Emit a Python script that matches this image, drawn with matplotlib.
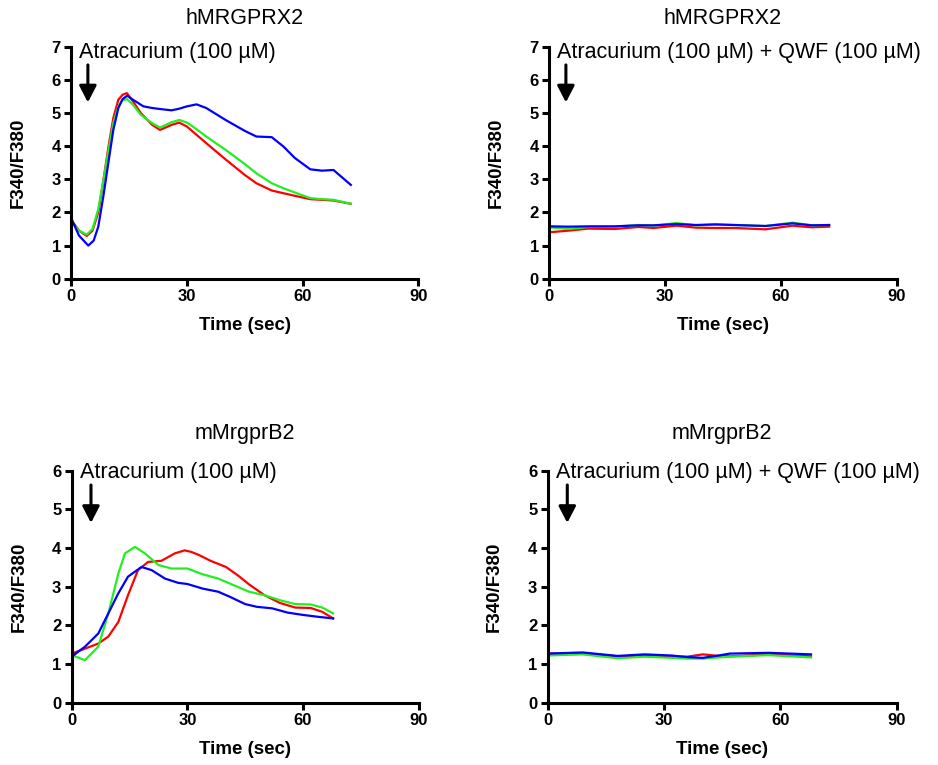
import matplotlib
matplotlib.use("Agg")
import matplotlib.pyplot as plt

plt.rcParams['font.family'] = ['Liberation Sans', 'DejaVu Sans']

# --- data (time in sec, F340/F380 ratio) ---
# hMRGPRX2, atracurium alone
hx_t_red = [0, 2, 4, 5.5, 7, 8.3, 9.6, 10.9, 12.2, 13.3, 14.4, 16, 18, 21, 23, 26, 28, 30, 32.5, 35, 40, 45, 48, 52, 55, 58, 62, 65, 68, 72.5]
hx_red = [1.77, 1.45, 1.29, 1.45, 2.0, 2.95, 3.95, 4.85, 5.4, 5.55, 5.6, 5.35, 5.0, 4.64, 4.49, 4.64, 4.71, 4.59, 4.34, 4.09, 3.6, 3.13, 2.88, 2.66, 2.58, 2.5, 2.4, 2.38, 2.36, 2.26]
hx_green = [1.7, 1.45, 1.33, 1.5, 2.1, 2.95, 3.85, 4.7, 5.2, 5.38, 5.42, 5.25, 4.95, 4.69, 4.56, 4.72, 4.79, 4.71, 4.51, 4.29, 3.89, 3.46, 3.18, 2.88, 2.73, 2.6, 2.43, 2.4, 2.38, 2.26]
hx_t_blue = [0, 2, 4.4, 5.8, 7, 8.3, 9.6, 10.9, 12.2, 13.3, 14.5, 16, 18.7, 21, 23, 26, 28, 30, 32.5, 35, 40, 45, 48, 52, 55, 58, 62, 65, 68, 72.5]
hx_blue = [1.82, 1.3, 1.0, 1.15, 1.57, 2.48, 3.49, 4.49, 5.15, 5.42, 5.52, 5.4, 5.2, 5.15, 5.12, 5.08, 5.13, 5.2, 5.26, 5.15, 4.79, 4.46, 4.29, 4.27, 3.99, 3.64, 3.3, 3.26, 3.28, 2.83]

# hMRGPRX2, atracurium + QWF
hxq_t = [0, 5, 10, 17, 23, 27, 33, 38, 43, 48, 56, 63, 68, 72.5]
hxq_red = [1.4, 1.45, 1.51, 1.5, 1.56, 1.53, 1.6, 1.54, 1.53, 1.53, 1.49, 1.6, 1.55, 1.57]
hxq_green = [1.55, 1.5, 1.56, 1.57, 1.62, 1.6, 1.68, 1.61, 1.63, 1.62, 1.59, 1.69, 1.61, 1.62]
hxq_blue = [1.58, 1.57, 1.58, 1.58, 1.61, 1.61, 1.65, 1.62, 1.64, 1.62, 1.59, 1.67, 1.61, 1.62]

# mMrgprB2, atracurium alone
mb_t_red = [0, 3.5, 6.9, 9.5, 12.1, 14.6, 17.2, 19.8, 23.3, 26.7, 29.3, 31, 33, 36, 40, 43, 46, 50, 54, 58, 62, 65, 67.8]
mb_red = [1.27, 1.4, 1.53, 1.71, 2.09, 2.78, 3.43, 3.64, 3.67, 3.86, 3.94, 3.9, 3.82, 3.67, 3.51, 3.3, 3.06, 2.78, 2.58, 2.46, 2.45, 2.35, 2.18]
mb_t_green = [0, 3.45, 6.9, 9.5, 12.1, 13.8, 16.4, 19, 22.5, 25.9, 30, 34, 38, 42, 46, 50, 54, 58, 62, 65, 67.8]
mb_green = [1.23, 1.1, 1.45, 2.31, 3.34, 3.86, 4.03, 3.86, 3.56, 3.47, 3.47, 3.32, 3.21, 3.04, 2.87, 2.78, 2.65, 2.55, 2.54, 2.46, 2.31]
mb_t_blue = [0, 3.45, 6.9, 9.5, 12.1, 14.6, 18.1, 20.7, 24.2, 27.6, 30, 34, 38, 41, 45, 48, 52, 56, 60, 64, 67.8]
mb_blue = [1.19, 1.45, 1.79, 2.31, 2.83, 3.26, 3.51, 3.43, 3.21, 3.1, 3.07, 2.95, 2.87, 2.74, 2.55, 2.48, 2.44, 2.33, 2.27, 2.22, 2.18]

# mMrgprB2, atracurium + QWF
mbq_t = [0, 9, 18, 25, 32, 36, 40, 44, 47, 57, 67.9]
mbq_red = [1.27, 1.28, 1.2, 1.21, 1.19, 1.19, 1.25, 1.21, 1.2, 1.25, 1.2]
mbq_green = [1.22, 1.25, 1.15, 1.19, 1.16, 1.14, 1.14, 1.17, 1.19, 1.23, 1.17]
mbq_blue = [1.27, 1.3, 1.21, 1.25, 1.22, 1.18, 1.16, 1.22, 1.27, 1.29, 1.25]

RED, GREEN, BLUE = '#ff0000', '#22ee22', '#0000ff'

fig = plt.figure(figsize=(9.38, 7.65), dpi=100)

W, H = 938, 765


def make_ax(x0, x1, y_top, y_bot):
    return fig.add_axes([x0 / W, 1 - y_bot / H, (x1 - x0) / W, (y_bot - y_top) / H])


def style(ax, ymax, title, title_pad, note, text_y, arrow_x, arrow_top, arrow_tip):
    ax.set_xlim(0, 90)
    ax.set_ylim(0, ymax)
    ax.set_xticks([0, 30, 60, 90])
    ax.set_yticks(range(0, ymax + 1))
    for s in ['top', 'right']:
        ax.spines[s].set_visible(False)
    for s in ['left', 'bottom']:
        ax.spines[s].set_linewidth(2.2)
    ax.tick_params(width=2.2, length=5, labelsize=12, pad=2.5)
    for lab in ax.get_xticklabels() + ax.get_yticklabels():
        lab.set_fontweight('bold')
    ax.set_xlabel('Time (sec)', fontsize=13.5, fontweight='bold')
    ax.set_ylabel('F340/F380', fontsize=13.5, fontweight='bold')
    ax.xaxis.set_label_coords(0.5, -0.165)
    ax.yaxis.set_label_coords(-0.128, 0.5)
    ax.set_title(title, fontsize=15.5, pad=title_pad)
    ax.text(2.1, text_y, note, fontsize=15.5, va='baseline', ha='left')
    ax.annotate('', xy=(arrow_x, arrow_tip), xytext=(arrow_x, arrow_top),
                arrowprops=dict(arrowstyle='-|>,head_length=0.5,head_width=0.26',
                                color='black', lw=2.2, shrinkA=0, shrinkB=0,
                                mutation_scale=20))


ax1 = make_ax(71.3, 418.3, 46.7, 278.7)
ax1.plot(hx_t_red, hx_red, color=RED, lw=1.6)
ax1.plot(hx_t_red, hx_green, color=GREEN, lw=1.6)
ax1.plot(hx_t_blue, hx_blue, color=BLUE, lw=1.6)
style(ax1, 7, 'hMRGPRX2', 16.3, 'Atracurium (100 µM)', 6.67, 4.3, 6.45, 5.32)

ax2 = make_ax(549.3, 896.7, 46.7, 278.7)
ax2.plot(hxq_t, hxq_red, color=RED, lw=1.6)
ax2.plot(hxq_t, hxq_green, color=GREEN, lw=1.6)
ax2.plot(hxq_t, hxq_blue, color=BLUE, lw=1.6)
style(ax2, 7, 'hMRGPRX2', 16.3, 'Atracurium (100 µM) + QWF (100 µM)', 6.67, 4.3, 6.45, 5.32)

ax3 = make_ax(71.7, 418.7, 470.7, 702.7)
ax3.plot(mb_t_red, mb_red, color=RED, lw=1.6)
ax3.plot(mb_t_green, mb_green, color=GREEN, lw=1.6)
ax3.plot(mb_t_blue, mb_blue, color=BLUE, lw=1.6)
style(ax3, 6, 'mMrgprB2', 22.6, 'Atracurium (100 µM)', 5.82, 5.0, 5.63, 4.65)

ax4 = make_ax(547.7, 896.7, 470.7, 702.7)
ax4.plot(mbq_t, mbq_red, color=RED, lw=1.6)
ax4.plot(mbq_t, mbq_green, color=GREEN, lw=1.6)
ax4.plot(mbq_t, mbq_blue, color=BLUE, lw=1.6)
style(ax4, 6, 'mMrgprB2', 22.6, 'Atracurium (100 µM) + QWF (100 µM)', 5.82, 5.05, 5.63, 4.65)

fig.savefig('out.png', dpi=100)
